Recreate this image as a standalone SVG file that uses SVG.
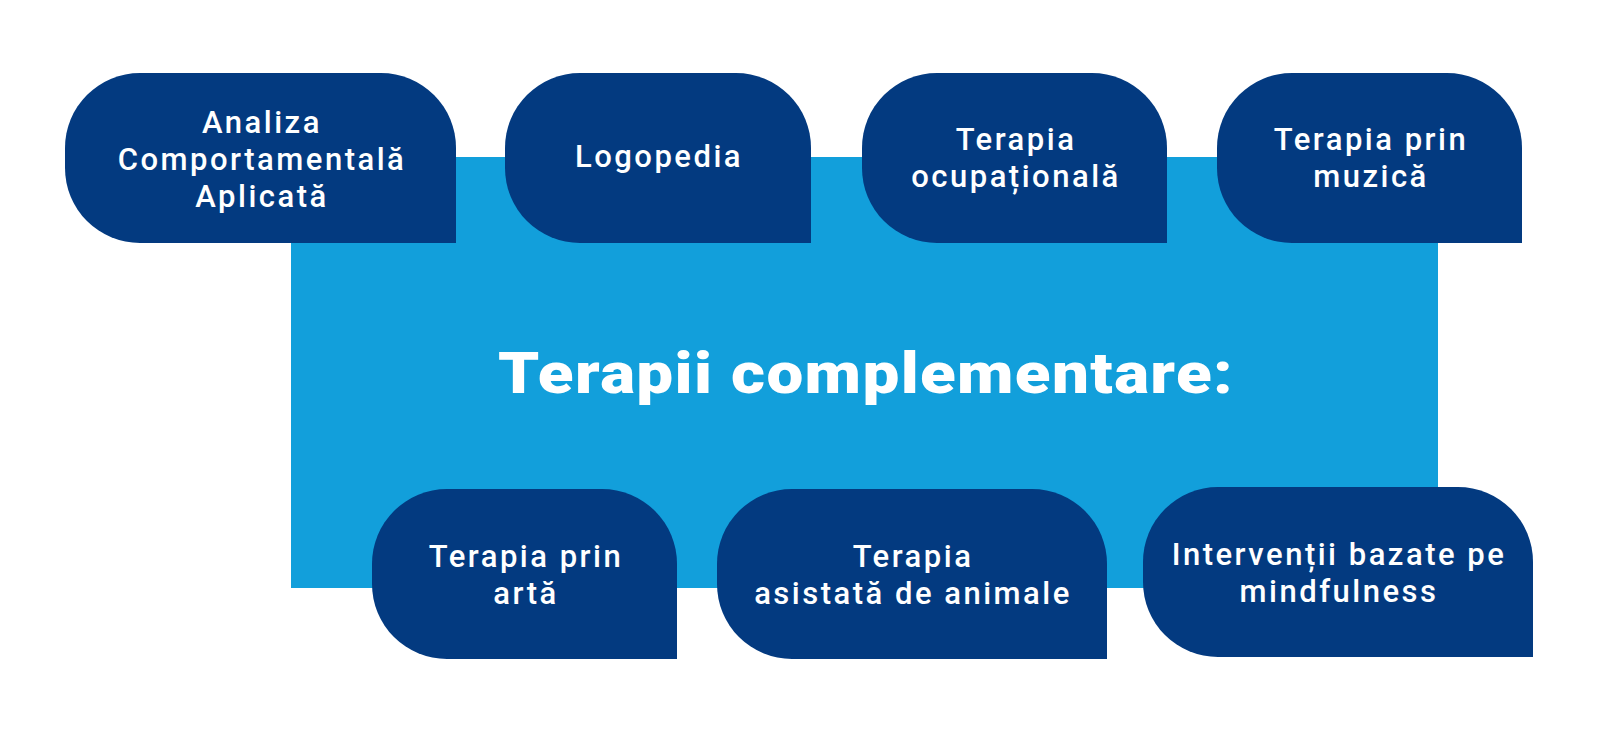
<svg xmlns="http://www.w3.org/2000/svg" width="1600" height="732" viewBox="0 0 1600 732">
<style>
.node{fill:#033a80}
.lbl{font-family:Roboto,"Liberation Sans",sans-serif;font-size:31px;font-weight:500;fill:#ffffff;text-anchor:middle;letter-spacing:2.5px}
.title{font-family:Roboto,"Liberation Sans",sans-serif;font-size:58px;font-weight:900;fill:#ffffff;text-anchor:middle;letter-spacing:1.2px}
</style>
<rect width="1600" height="732" fill="#ffffff"/>
<g id="center">
<rect x="291" y="157" width="1147" height="431" fill="#129fdb"/>
<text class="title" transform="translate(866 393) scale(1.13 1)" x="0" y="0">Terapii complementare:</text>
</g>
<g id="connectors"></g>
<g id="n1">
<path class="node" d="M140,73 H381 A75 75 0 0 1 456,148 V243 H140 A75 75 0 0 1 65,168 V148 A75 75 0 0 1 140,73 Z"/>
<text class="lbl" x="262" y="133">Analiza</text>
<text class="lbl" x="262" y="170">Comportamentală</text>
<text class="lbl" x="262" y="207">Aplicată</text>
</g>
<g id="n2">
<path class="node" d="M580,73 H736 A75 75 0 0 1 811,148 V243 H580 A75 75 0 0 1 505,168 V148 A75 75 0 0 1 580,73 Z"/>
<text class="lbl" x="659" y="167">Logopedia</text>
</g>
<g id="n3">
<path class="node" d="M937,73 H1092 A75 75 0 0 1 1167,148 V243 H937 A75 75 0 0 1 862,168 V148 A75 75 0 0 1 937,73 Z"/>
<text class="lbl" x="1016" y="150">Terapia</text>
<text class="lbl" x="1016" y="187">ocupațională</text>
</g>
<g id="n4">
<path class="node" d="M1292,73 H1447 A75 75 0 0 1 1522,148 V243 H1292 A75 75 0 0 1 1217,168 V148 A75 75 0 0 1 1292,73 Z"/>
<text class="lbl" x="1371" y="150">Terapia prin</text>
<text class="lbl" x="1371" y="187">muzică</text>
</g>
<g id="n5">
<path class="node" d="M447,489 H602 A75 75 0 0 1 677,564 V659 H447 A75 75 0 0 1 372,584 V564 A75 75 0 0 1 447,489 Z"/>
<text class="lbl" x="526" y="567">Terapia prin</text>
<text class="lbl" x="526" y="604">artă</text>
</g>
<g id="n6">
<path class="node" d="M792,489 H1032 A75 75 0 0 1 1107,564 V659 H792 A75 75 0 0 1 717,584 V564 A75 75 0 0 1 792,489 Z"/>
<text class="lbl" x="913" y="567">Terapia</text>
<text class="lbl" x="913" y="604">asistată de animale</text>
</g>
<g id="n7">
<path class="node" d="M1218,487 H1458 A75 75 0 0 1 1533,562 V657 H1218 A75 75 0 0 1 1143,582 V562 A75 75 0 0 1 1218,487 Z"/>
<text class="lbl" x="1339" y="565">Intervenții bazate pe</text>
<text class="lbl" x="1339" y="602">mindfulness</text>
</g>
</svg>
